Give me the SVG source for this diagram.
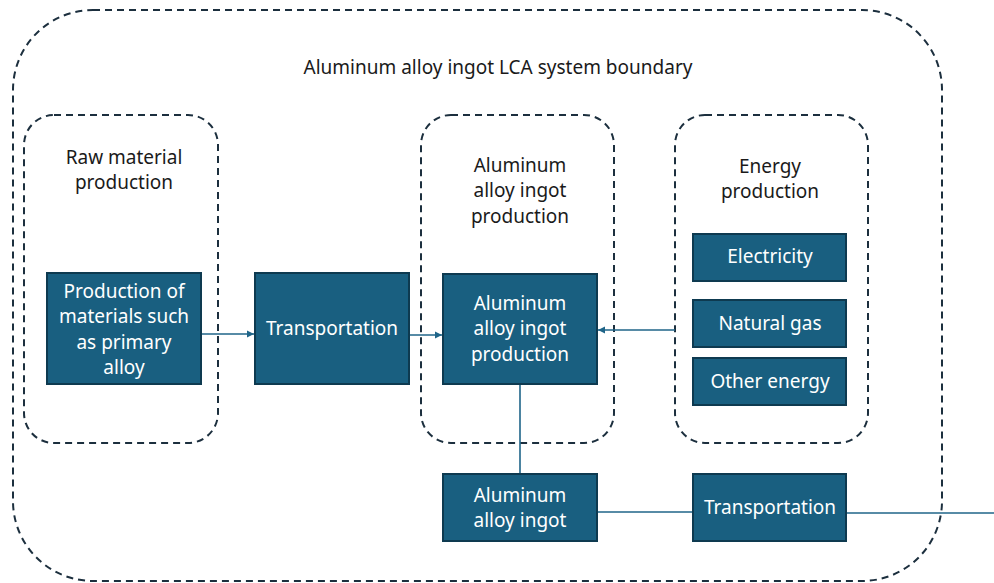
<svg xmlns="http://www.w3.org/2000/svg" width="994" height="583" viewBox="0 0 994 583">
<style>
.bnd{fill:none;stroke:#1c2f3e;stroke-width:2;stroke-dasharray:7 5}
.box{fill:#195f80;stroke:#0e3a50;stroke-width:2}
.lbl{font-family:"Noto Sans","Open Sans",sans-serif;font-size:19px;fill:#1a1a1a;text-anchor:middle}
.wt{font-family:"Noto Sans","Open Sans",sans-serif;font-size:19px;fill:#ffffff;text-anchor:middle}
.con{fill:none;stroke:#1f6589;stroke-width:1.6}
</style>
<defs>
<marker id="ah" markerWidth="8" markerHeight="8" refX="7" refY="4" orient="auto" markerUnits="userSpaceOnUse">
<path d="M0,0.5 L7,4 L0,7.5 Z" fill="#1f6589"/>
</marker>
</defs>
<rect width="994" height="583" fill="#ffffff"/>
<g id="system-boundary">
<rect class="bnd" x="13" y="10" width="929" height="571" rx="80" ry="80"/>
<text class="lbl" x="498" y="74">Aluminum alloy ingot LCA system boundary</text>
</g>
<g id="raw-material-group">
<rect class="bnd" x="24" y="115" width="194" height="328" rx="30" ry="30"/>
<text class="lbl" x="124" y="164">Raw material</text>
<text class="lbl" x="124" y="189">production</text>
</g>
<g id="alloy-production-group">
<rect class="bnd" x="421" y="115" width="193" height="328" rx="30" ry="30"/>
<text class="lbl" x="520" y="172">Aluminum</text>
<text class="lbl" x="520" y="197">alloy ingot</text>
<text class="lbl" x="520" y="223">production</text>
</g>
<g id="energy-group">
<rect class="bnd" x="675" y="115" width="193" height="328" rx="30" ry="30"/>
<text class="lbl" x="770" y="173">Energy</text>
<text class="lbl" x="770" y="198">production</text>
</g>
<g id="connectors">
<line class="con" x1="201" y1="334" x2="254" y2="334" marker-end="url(#ah)"/>
<line class="con" x1="409" y1="335" x2="442" y2="335" marker-end="url(#ah)"/>
<line class="con" x1="675" y1="330" x2="598" y2="330" marker-end="url(#ah)"/>
<line class="con" x1="520" y1="384" x2="520" y2="474"/>
<line class="con" x1="597" y1="512" x2="693" y2="512"/>
<line class="con" x1="846" y1="513" x2="994" y2="513"/>
</g>
<g id="production-materials">
<rect class="box" x="47" y="273" width="154" height="111"/>
<text class="wt" x="124" y="298">Production of</text>
<text class="wt" x="124" y="323">materials such</text>
<text class="wt" x="124" y="349">as primary</text>
<text class="wt" x="124" y="374">alloy</text>
</g>
<g id="transportation-1">
<rect class="box" x="255" y="273" width="154" height="111"/>
<text class="wt" x="332" y="335">Transportation</text>
</g>
<g id="alloy-ingot-production">
<rect class="box" x="443" y="274" width="154" height="110"/>
<text class="wt" x="520" y="310">Aluminum</text>
<text class="wt" x="520" y="335">alloy ingot</text>
<text class="wt" x="520" y="361">production</text>
</g>
<g id="electricity">
<rect class="box" x="693" y="234" width="153" height="47"/>
<text class="wt" x="770" y="263">Electricity</text>
</g>
<g id="natural-gas">
<rect class="box" x="693" y="300" width="153" height="47"/>
<text class="wt" x="770" y="330">Natural gas</text>
</g>
<g id="other-energy">
<rect class="box" x="693" y="358" width="153" height="47"/>
<text class="wt" x="770" y="388">Other energy</text>
</g>
<g id="alloy-ingot">
<rect class="box" x="443" y="474" width="154" height="67"/>
<text class="wt" x="520" y="502">Aluminum</text>
<text class="wt" x="520" y="527">alloy ingot</text>
</g>
<g id="transportation-2">
<rect class="box" x="693" y="474" width="153" height="67"/>
<text class="wt" x="770" y="514">Transportation</text>
</g>
</svg>
